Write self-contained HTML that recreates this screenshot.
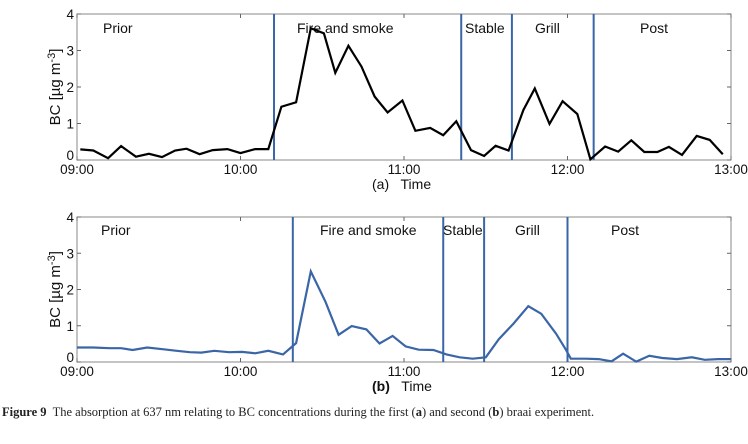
<!DOCTYPE html>
<html><head><meta charset="utf-8"><style>
body{margin:0;background:#fff;width:748px;height:439px;overflow:hidden;font-family:"Liberation Sans",sans-serif}
svg text{font-family:"Liberation Sans",sans-serif}
.cap{position:absolute;left:2px;top:405px;font-family:"Liberation Serif",serif;font-size:12.5px;color:#222}
</style></head><body>
<svg id="chart" width="748" height="439"></svg>
<div class="cap"><b>Figure 9</b>&nbsp; The absorption at 637 nm relating to BC concentrations during the first (<b>a</b>) and second (<b>b</b>) braai experiment.</div>
<script>
// panel a (hours after 09:00)
const timesA=[0.02,0.10,0.19,0.27,0.36,0.44,0.52,0.60,0.67,0.75,0.83,0.92,1.0,1.09,1.17,1.25,1.34,1.43,1.51,1.58,1.66,1.74,1.82,1.90,1.99,2.07,2.16,2.24,2.32,2.41,2.49,2.56,2.64,2.73,2.80,2.89,2.97,3.06,3.14,3.23,3.31,3.39,3.47,3.55,3.62,3.70,3.79,3.87,3.95];
const valuesA=[0.29,0.26,0.05,0.38,0.09,0.17,0.08,0.26,0.31,0.16,0.27,0.30,0.19,0.30,0.30,1.46,1.58,3.61,3.47,2.39,3.13,2.56,1.74,1.30,1.63,0.80,0.88,0.68,1.06,0.27,0.11,0.39,0.26,1.37,1.96,0.99,1.61,1.26,0.02,0.37,0.23,0.54,0.22,0.22,0.36,0.14,0.66,0.55,0.16];
const phaseLinesA=[1.205,2.35,2.66,3.16];
// panel b
const timesB=[0,0.10,0.20,0.27,0.34,0.43,0.53,0.61,0.69,0.76,0.84,0.93,1.01,1.09,1.17,1.26,1.34,1.43,1.52,1.60,1.68,1.77,1.85,1.93,2.01,2.09,2.18,2.26,2.34,2.42,2.50,2.58,2.67,2.76,2.84,2.93,2.99,3.02,3.11,3.19,3.27,3.34,3.42,3.50,3.58,3.67,3.76,3.84,3.92,4.0];
const valuesB=[0.40,0.40,0.38,0.38,0.33,0.40,0.35,0.31,0.27,0.26,0.31,0.27,0.28,0.24,0.31,0.21,0.52,2.50,1.66,0.75,0.99,0.90,0.51,0.72,0.43,0.34,0.33,0.21,0.13,0.09,0.13,0.63,1.06,1.54,1.33,0.78,0.34,0.09,0.09,0.08,0.02,0.23,0.01,0.17,0.11,0.08,0.13,0.06,0.08,0.08];
const phaseLinesB=[1.32,2.24,2.49,3.0];
const xTicks=["09:00","10:00","11:00","12:00","13:00"];
const yTicks=["0","1","2","3","4"];
const phaseLabels=["Prior","Fire and smoke","Stable","Grill","Post"];

const NS="http://www.w3.org/2000/svg";
const svg=document.getElementById('chart');
function mk(t,a,p){const e=document.createElementNS(NS,t);for(const k in a)e.setAttribute(k,a[k]);(p||svg).appendChild(e);return e;}
const X0=77,X1=731;
function xs(h){return X0+h*(X1-X0)/4;}

function panel(key,top,bot,times,vals,lines,color,labelX,labelY,tag){
  const g=mk('g',{});
  
  
  const ys=v=>bot-v*(bot-top)/4;
  const frame=mk('rect',{x:X0,y:top,width:X1-X0,height:bot-top,fill:'none',stroke:'#888','stroke-width':1},g);
  
  
  xTicks.forEach((t,i)=>{const x=xs(i);
    mk('line',{x1:x,x2:x,y1:bot,y2:bot-4,stroke:'#666'},g);
    mk('line',{x1:x,x2:x,y1:top,y2:top+4,stroke:'#666'},g);
    const tx=mk('text',{x:x,y:bot+14,'font-size':13.5,'text-anchor':'middle',fill:'#111'},g);tx.textContent=t;
    
    });
  yTicks.forEach((t,i)=>{const y=ys(i);
    mk('line',{x1:X0,x2:X0+4,y1:y,y2:y,stroke:'#666'},g);
    mk('line',{x1:X1,x2:X1-4,y1:y,y2:y,stroke:'#666'},g);
    const tx=mk('text',{x:X0-3,y:y+(i==0?0:5),'font-size':13.5,'text-anchor':'end',fill:'#111'},g);tx.textContent=t;
    
    });
  lines.forEach(h=>{const l=mk('line',{x1:xs(h),x2:xs(h),y1:top,y2:bot,stroke:'#3a66a8','stroke-width':2},g);
    
    });
  labelX.forEach((x,i)=>{const tx=mk('text',{x:x,y:labelY,'font-size':14,fill:'#111'},g);tx.textContent=phaseLabels[i];
    
    });
  const pts=times.map((t,i)=>xs(t).toFixed(1)+','+ys(vals[i]).toFixed(1)).join(' ');
  const pl=mk('polyline',{points:pts,fill:'none',stroke:color,'stroke-width':2.2,'stroke-linejoin':'miter'},g);
  
  
  const yl=mk('text',{transform:`translate(${X0-17},${(top+bot)/2}) rotate(-90)`,'font-size':15,'text-anchor':'middle',fill:'#111'},g);
  yl.innerHTML='BC [µg m<tspan dy="-5" font-size="11">-3</tspan><tspan dy="5">]</tspan>';
  
  
  const xl=mk('text',{x:372,y:bot+29,'font-size':14,fill:'#111'},g);
  xl.innerHTML=tag+'&#160;&#160; Time';
  
  
}
panel('a',14,160,timesA,valuesA,phaseLinesA,'#000',[103,297,465,535,640],33,'(a)');
panel('b',217,362,timesB,valuesB,phaseLinesB,'#3a66a8',[101,320,443,515,611],235,'<tspan font-weight="bold">(b)</tspan>');
</script>
</body></html>
